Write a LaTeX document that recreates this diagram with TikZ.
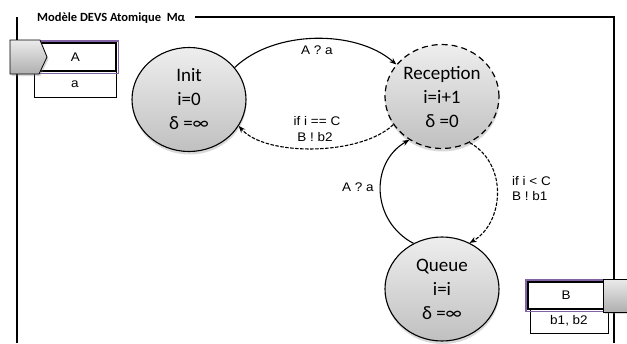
\documentclass[tikz,border=0pt]{standalone}
\usepackage{fontspec}
\setmainfont{Carlito}
\newfontfamily\lblfont[FakeStretch=1.08]{Liberation Sans}
\usetikzlibrary{shapes.geometric,arrows.meta,shadows}
\definecolor{stlight}{RGB}{238,238,238}
\definecolor{stdark}{RGB}{192,192,192}
\definecolor{portglow}{RGB}{130,100,165}
\definecolor{portlight}{RGB}{235,235,235}
\definecolor{portdark}{RGB}{175,175,175}
\begin{document}
\begin{tikzpicture}[x=1pt,y=1pt,
  state/.style={ellipse, minimum width=114pt, minimum height=104pt, inner sep=0pt,
    draw=black, line width=1.1pt, top color=stlight, bottom color=stdark,
    drop shadow={shadow xshift=0.5pt, shadow yshift=-3pt, opacity=0.3},
    align=center, font=\fontsize{19}{24}\selectfont},
  dashedstate/.style={state, dash pattern=on 6pt off 4pt, line width=1.2pt},
  conn/.style={line width=1.1pt, -{Stealth[length=7pt,width=5.5pt]}},
  dconn/.style={conn, dash pattern=on 3.5pt off 1.5pt},
  lbl/.style={font=\lblfont\fontsize{12.5}{14}\selectfont, inner sep=0pt},
  portbox/.style={draw=black, fill=white, inner sep=0pt, font=\lblfont\fontsize{12.5}{14}\selectfont},
  mainport/.style={portbox, line width=1.5pt},
  subport/.style={portbox, line width=1pt},
  glow/.style={draw=portglow, line width=1.3pt},
  portshape/.style={draw=black, line width=0.8pt, top color=portlight, bottom color=portdark,
    drop shadow={shadow xshift=1.5pt, shadow yshift=-2pt, opacity=0.3}},
  frame/.style={line width=1.1pt}
]
\useasboundingbox (0,0) rectangle (627,-343);
\clip (0,0) rectangle (627,-343);
% frame
\draw[frame] (17,-343) -- (17,-17);
\draw[frame] (195,-17) -- (614,-17) -- (614,-343);
\node[anchor=base west, inner sep=0pt, font=\bfseries\fontsize{12.5}{14}\selectfont] (title) at (37,-21) {Modèle DEVS Atomique\ \ Mα};
% states
\node[state] (init) at (189,-99.5) {Init\\i=0\\δ =∞};
\node[dashedstate] (rec) at (442,-96.5) {Reception\\i=i+1\\δ =0};
\node[state] (queue) at (442,-289) {Queue\\i=i\\δ =∞};
% connectors
\draw[conn] (init.35) .. controls +(40,38) and +(-40,35) .. (rec.145);
\draw[dconn] (rec.210) .. controls +(-32,-31) and +(27,-31) .. (init.-28);
\draw[conn] (queue.122) .. controls +(-42,22) and +(-40,-23) .. (rec.233);
\draw[dconn] (rec.-59) .. controls +(39,-22) and +(34,20) .. (queue.59);
% labels
\node[lbl] (l1) at (317,-50.5) {A ? a};
\node[lbl] (l2) at (317,-121) {if i == C};
\node[lbl] (l3) at (315,-137) {B ! b2};
\node[lbl] (l4) at (358,-187.5) {A ? a};
\node[lbl, anchor=west] (l5) at (512,-181) {if i < C};
\node[lbl, anchor=west] (l6) at (512,-196) {B ! b1};
% input port A
\node[subport, minimum width=82pt, minimum height=26pt] (pa) at (75,-84) {a};
\node[mainport, minimum width=81pt, minimum height=28pt] (pA) at (75.5,-57) {A};
\draw[glow] ([shift={(-1.4,-1.4)}]pA.south west) rectangle ([shift={(1.4,1.4)}]pA.north east);
\path[portshape] (10,-40) -- (40,-40) -- (47,-57) -- (39,-74) -- (10,-74) -- cycle;
% output port B
\node[subport, minimum width=78pt, minimum height=24pt] (pb) at (569,-321) {b1, b2};
\node[mainport, minimum width=76pt, minimum height=27pt] (pB) at (566,-295.5) {B};
\draw[glow] ([shift={(-1.4,-1.4)}]pB.south west) rectangle ([shift={(1.4,1.4)}]pB.north east);
\path[portshape] (603,-279) rectangle (640,-312);
\end{tikzpicture}
\end{document}
